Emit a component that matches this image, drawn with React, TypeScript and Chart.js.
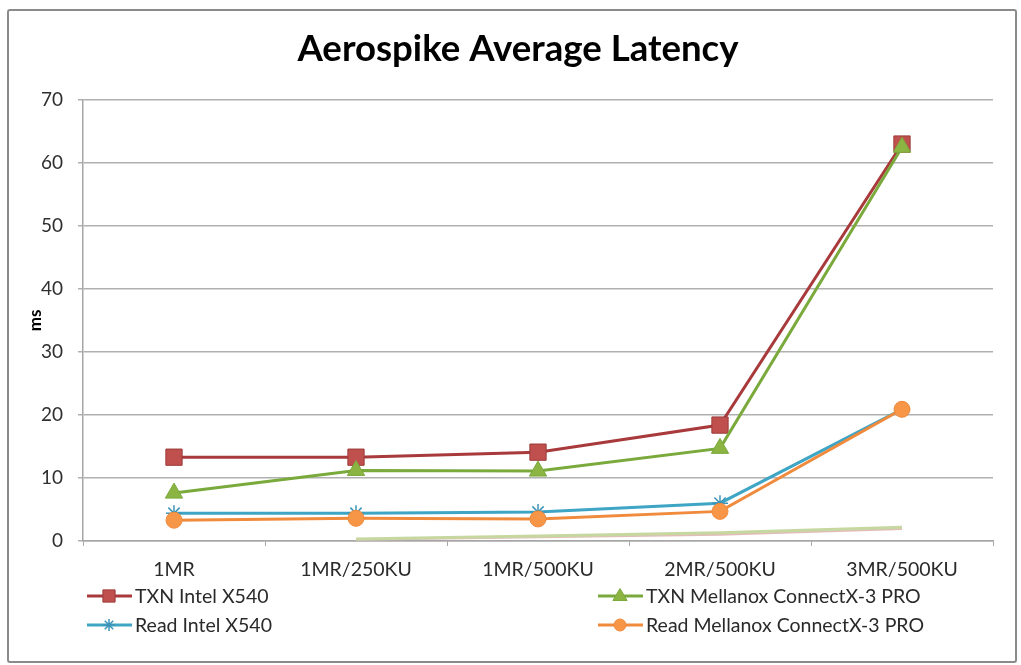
import React, { useEffect, useRef } from "react";
import { Chart, registerables } from "chart.js";

Chart.register(...registerables);

const categories = ["1MR", "1MR/250KU", "1MR/500KU", "2MR/500KU", "3MR/500KU"];
const txnIntel = [13.3, 13.3, 14.1, 18.4, 63.0];
const txnMellanox = [7.6, 11.2, 11.1, 14.7, 62.5];
const readIntel = [4.4, 4.4, 4.6, 6.0, 20.9];
const readMellanox = [3.3, 3.6, 3.5, 4.7, 20.9];
const faintGreen = [null, 0.3, 0.8, 1.3, 2.2];
const faintPink = [null, 0.2, 0.6, 1.0, 1.9];
const yMin = 0;
const yMax = 70;
const yStep = 10;

const FONT = "Lato, 'Open Sans', sans-serif";

function drawMarker(ctx: CanvasRenderingContext2D, style: string, x: number, y: number, r: number, fill: string, stroke: string, bw: number) {
  ctx.save();
  ctx.fillStyle = fill;
  ctx.strokeStyle = stroke;
  ctx.lineWidth = bw;
  ctx.beginPath();
  if (style === "rect") {
    const s = r / Math.SQRT2;
    ctx.rect(x - s, y - s, 2 * s, 2 * s);
    ctx.fill();
    ctx.stroke();
  } else if (style === "triangle") {
    ctx.moveTo(x, y - r);
    ctx.lineTo(x + r * 0.95, y + r * 0.6);
    ctx.lineTo(x - r * 0.95, y + r * 0.6);
    ctx.closePath();
    ctx.fill();
    ctx.stroke();
  } else if (style === "circle") {
    ctx.arc(x, y, r, 0, Math.PI * 2);
    ctx.fill();
    ctx.stroke();
  } else if (style === "star") {
    for (let i = 0; i < 4; i++) {
      const a = (i * Math.PI) / 4;
      ctx.moveTo(x - Math.cos(a) * r, y - Math.sin(a) * r);
      ctx.lineTo(x + Math.cos(a) * r, y + Math.sin(a) * r);
    }
    ctx.stroke();
  }
  ctx.restore();
}

const legendPlugin = {
  id: "excelLegend",
  afterDraw(chart: any) {
    const ctx: CanvasRenderingContext2D = chart.ctx;
    const left = chart.chartArea.left;
    const bottom = chart.chartArea.bottom;
    const slots = [
      { ds: 0, x: left + 4, y: bottom + 55 },
      { ds: 1, x: left + 515, y: bottom + 55 },
      { ds: 2, x: left + 4, y: bottom + 84 },
      { ds: 3, x: left + 515, y: bottom + 84 },
    ];
    slots.forEach((s) => {
      const d = chart.data.datasets[s.ds];
      ctx.save();
      ctx.strokeStyle = d.borderColor;
      ctx.lineWidth = 3;
      ctx.beginPath();
      ctx.moveTo(s.x, s.y);
      ctx.lineTo(s.x + 45, s.y);
      ctx.stroke();
      ctx.restore();
      drawMarker(ctx, d.pointStyle, s.x + 22, s.y, d.pointRadius * 0.75, d.pointBackgroundColor, d.pointBorderColor, d.pointBorderWidth);
      ctx.save();
      ctx.fillStyle = "#2a2a2a";
      ctx.font = `19.5px ${FONT}`;
      ctx.textBaseline = "middle";
      ctx.fillText(d.label, s.x + 48, s.y + 1);
      ctx.restore();
    });
  },
};

export default function App() {
  const ref = useRef<HTMLCanvasElement>(null);
  useEffect(() => {
    document.body.style.margin = "0";
    const chart = new Chart(ref.current!, {
      type: "line",
      data: {
        labels: categories,
        datasets: [
          {
            label: "TXN Intel X540",
            data: txnIntel,
            borderColor: "#a93a3c",
            borderWidth: 3,
            pointStyle: "rect",
            pointRadius: 11.5,
            pointBackgroundColor: "#c0504d",
            pointBorderColor: "#9b3b39",
            pointBorderWidth: 1,
            order: 5,
          },
          {
            label: "TXN Mellanox ConnectX-3 PRO",
            data: txnMellanox,
            borderColor: "#7aa93c",
            borderWidth: 3,
            pointStyle: "triangle",
            pointRadius: 10,
            pointBackgroundColor: "#8cb443",
            pointBorderColor: "#7aa93c",
            pointBorderWidth: 1,
            order: 4,
          },
          {
            label: "Read Intel X540",
            data: readIntel,
            borderColor: "#3fa5c4",
            borderWidth: 3,
            pointStyle: "star",
            pointRadius: 8,
            pointBackgroundColor: "#4bacc6",
            pointBorderColor: "#3c95b8",
            pointBorderWidth: 1.5,
            order: 3,
          },
          {
            label: "Read Mellanox ConnectX-3 PRO",
            data: readMellanox,
            borderColor: "#f08a3c",
            borderWidth: 3,
            pointStyle: "circle",
            pointRadius: 8,
            pointBackgroundColor: "#f79646",
            pointBorderColor: "#f08a3c",
            pointBorderWidth: 1,
            order: 2,
          },
          {
            label: "",
            data: faintPink,
            borderColor: "#e2bcb9",
            borderWidth: 2,
            pointRadius: 0,
            order: 7,
          },
          {
            label: "",
            data: faintGreen,
            borderColor: "#c6d8a0",
            borderWidth: 3,
            pointRadius: 0,
            order: 6,
          },
        ],
      },
      options: {
        responsive: false,
        animation: false,
        layout: { padding: { left: 20, right: 5, top: 0, bottom: 79 } },
        plugins: {
          legend: { display: false },
          tooltip: { enabled: false },
          title: {
            display: true,
            text: "Aerospike Average Latency",
            color: "#000",
            font: { family: FONT, size: 36.6, weight: "bold" },
            padding: { top: 27, bottom: 29 },
          },
        },
        scales: {
          x: {
            offset: true,
            grid: {
              offset: true,
              drawOnChartArea: false,
              drawTicks: true,
              tickLength: 5,
              color: "#a6a6a6",
            },
            border: { color: "#a6a6a6", width: 1.5 },
            ticks: {
              color: "#2a2a2a",
              font: { family: FONT, size: 19.5 },
              padding: 12,
              maxRotation: 0,
              autoSkip: false,
            },
            afterFit: (s: any) => {
              s.height = 45;
            },
          },
          y: {
            min: yMin,
            max: yMax,
            grid: { color: "#b0b0b0", lineWidth: 1.5, tickLength: 5 },
            border: { color: "#a6a6a6", width: 1.5 },
            ticks: {
              stepSize: yStep,
              color: "#2f2f2f",
              font: { family: FONT, size: 19 },
              padding: 15,
            },
            title: {
              display: true,
              text: "ms",
              color: "#000",
              font: { family: FONT, size: 17, weight: "bold" },
              padding: { top: 5, bottom: 0 },
            },
            afterFit: (s: any) => {
              s.width = 63;
            },
          },
          yRight: {
            position: "right",
            min: yMin,
            max: yMax,
            grid: { display: false },
            border: { display: false },
            ticks: { display: false },
            afterFit: (s: any) => {
              s.width = 23;
            },
          },
        },
      },
      plugins: [legendPlugin],
    } as any);
    return () => chart.destroy();
  }, []);
  return (
    <div style={{ position: "relative", width: 1021, height: 665, background: "#fff" }}>
      <canvas ref={ref} width={1021} height={665} style={{ display: "block" }} />
      <div
        style={{
          position: "absolute",
          left: 7,
          top: 9,
          width: 1006,
          height: 650,
          border: "2px solid #8a8a8a",
          borderRadius: 3,
          pointerEvents: "none",
        }}
      />
    </div>
  );
}
